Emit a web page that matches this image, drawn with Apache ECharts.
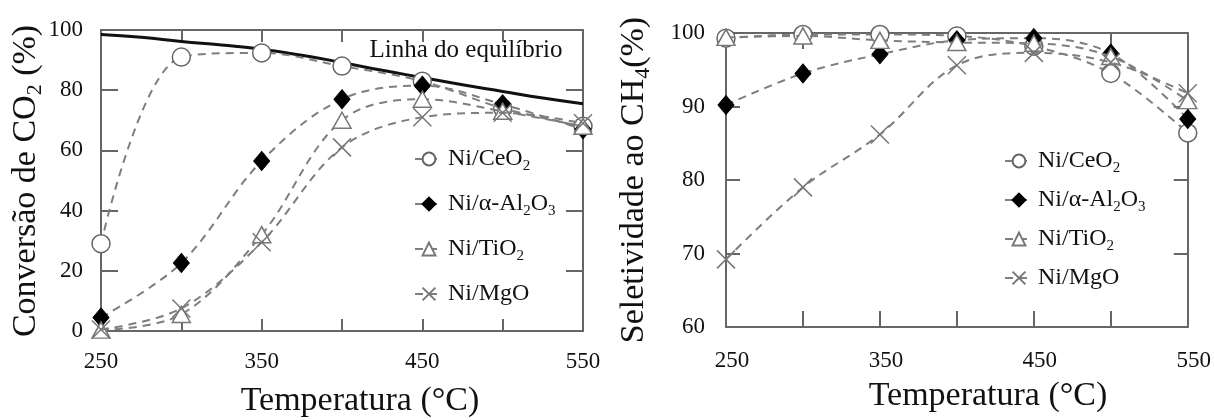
<!DOCTYPE html>
<html>
<head>
<meta charset="utf-8">
<script src="https://cdn.jsdelivr.net/npm/echarts@6/dist/echarts.min.js"></script>
<style>
  html, body { margin: 0; padding: 0; background: #fff; }
  #chart { width: 1214px; height: 420px; }
</style>
</head>
<body>
<div id="chart"></div>
<script>
// Temperatures of the catalytic runs (°C)
const TEMPS = [250, 300, 350, 400, 450, 500, 550];
const X_TICK_LABELS = [250, 350, 450, 550];

// Catalyst names (digits are drawn as subscripts)
const NAMES = ['Ni/CeO2', 'Ni/α-Al2O3', 'Ni/TiO2', 'Ni/MgO'];

// CO2 conversion (%)
const CONV_CEO2  = [29, 91, 92.4, 88, 83, 74, 68];
const CONV_AL2O3 = [4.5, 22.6, 56.5, 77, 81.5, 75.3, 67];
const CONV_TIO2  = [0.3, 5.5, 32, 70, 77, 73, 68];
const CONV_MGO   = [0.5, 7.5, 29.5, 61, 71, 72.5, 69];

// Thermodynamic equilibrium conversion (%)
const EQ_TEMPS = [250, 275, 300, 325, 350, 375, 400, 425, 450, 475, 500, 525, 550];
const EQ_CONV  = [98.5, 97.6, 96.2, 95, 93.6, 91.6, 89.2, 86.6, 84.2, 81.8, 79.6, 77.4, 75.5];

// CH4 selectivity (%)
const SEL_CEO2  = [99.3, 99.8, 99.8, 99.6, 98.2, 94.5, 86.4];
const SEL_AL2O3 = [90.2, 94.5, 97.1, 99.0, 99.3, 97.2, 88.3];
const SEL_TIO2  = [99.4, 99.6, 99.0, 98.7, 98.6, 96.8, 90.8];
const SEL_MGO   = [69.2, 79.0, 86.2, 95.6, 97.3, 96.0, 91.8];

const FONT = 'Liberation Serif';
const AXIS_COLOR = '#666';
const DASH_COLOR = '#7e7e7e';

// turn "CO2" into rich-text tokens with a subscript digit
function rich(s) {
  return s.match(/\d+|\D+/g)
    .map(t => /^\d+$/.test(t) ? '{s|' + t + '}' : '{n|' + t + '}')
    .join('');
}

function pairs(xs, ys) { return xs.map((x, i) => [x, ys[i]]); }

const MARKERS = [
  { symbol: 'circle', symbolSize: 18, itemStyle: { color: '#fff', borderColor: '#666', borderWidth: 1.5 } },
  { symbol: 'diamond', symbolSize: [16, 19], itemStyle: { color: '#000', borderColor: '#000', borderWidth: 1 } },
  { symbol: 'triangle', symbolSize: [18, 16], itemStyle: { color: '#fff', borderColor: '#777', borderWidth: 1.5 } },
  { symbol: 'path://M0,0L10,10M10,0L0,10', symbolSize: 18, itemStyle: { color: '#777', borderColor: '#777', borderWidth: 1.5 } }
];

function catalystSeries(grid, values) {
  return values.map((vals, i) => Object.assign({
    type: 'line',
    name: NAMES[i],
    xAxisIndex: grid * 2,
    yAxisIndex: grid * 2,
    data: pairs(TEMPS, vals),
    smooth: 0.35,
    clip: false,
    z: 3 + i,
    lineStyle: { color: DASH_COLOR, width: 2, type: [8, 6] }
  }, MARKERS[i]));
}

const lineStyleAxis = { color: AXIS_COLOR, width: 2 };
const labelStyle = { fontFamily: FONT, fontSize: 23, color: '#111' };

function xAxes(grid, tickLen, labelMargin, labelPad) {
  const base = {
    gridIndex: grid, type: 'value', min: 250, max: 550, interval: 50,
    axisLine: { show: true, onZero: false, lineStyle: lineStyleAxis },
    axisTick: { show: true, inside: true, length: tickLen, lineStyle: lineStyleAxis },
    splitLine: { show: false }
  };
  return [
    Object.assign({}, base, {
      position: 'bottom',
      axisLabel: Object.assign({
        margin: labelMargin, padding: labelPad,
        formatter: v => X_TICK_LABELS.includes(v) ? String(v) : ''
      }, labelStyle)
    }),
    Object.assign({}, base, { position: 'top', axisLabel: { show: false } })
  ];
}

function yAxes(grid, min, max, interval, tickLen, labelMargin) {
  const base = {
    gridIndex: grid, type: 'value', min: min, max: max, interval: interval,
    axisLine: { show: true, onZero: false, lineStyle: lineStyleAxis },
    axisTick: { show: true, inside: true, length: tickLen, lineStyle: lineStyleAxis },
    splitLine: { show: false }
  };
  return [
    Object.assign({}, base, { position: 'left', axisLabel: Object.assign({ margin: labelMargin }, labelStyle) }),
    Object.assign({}, base, { position: 'right', axisLabel: { show: false } })
  ];
}

const legendRich = {
  n: { fontFamily: FONT, fontSize: 24, color: '#111', lineHeight: 30 },
  s: { fontFamily: FONT, fontSize: 15, color: '#111', lineHeight: 10, verticalAlign: 'bottom' }
};

function legendFor(left, top, gap) {
  return {
    data: NAMES,
    orient: 'vertical',
    left: left, top: top,
    itemWidth: 28, itemHeight: 16, itemGap: gap,
    selectedMode: false,
    formatter: name => rich(name),
    textStyle: { fontFamily: FONT, fontSize: 24, color: '#111', lineHeight: 30, rich: legendRich }
  };
}

const titleRich = {
  n: { fontFamily: FONT, fontSize: 34, fill: '#111', lineHeight: 40 },
  s: { fontFamily: FONT, fontSize: 22, fill: '#111', lineHeight: 14, verticalAlign: 'bottom' }
};

function titleText(x, y, text, rot) {
  return {
    type: 'text', x: x, y: y, rotation: rot || 0, silent: true,
    style: { text: rich(text), rich: titleRich, align: 'center', verticalAlign: 'middle' }
  };
}

const option = {
  animation: false,
  backgroundColor: '#fff',
  grid: [
    { left: 101, top: 30, width: 482, height: 301 },
    { left: 726, top: 33, width: 463, height: 294 }
  ],
  xAxis: [].concat(xAxes(0, 12, 19, 0), xAxes(1, 16, 22, [0, 0, 0, 12])),
  yAxis: [].concat(yAxes(0, 0, 100, 20, 17, 18), yAxes(1, 60, 100, 10, 14, 21)),
  legend: [legendFor(409, 139, 15), legendFor(999, 141, 9)],
  series: [
    {
      type: 'line', name: 'Linha do equilíbrio',
      xAxisIndex: 0, yAxisIndex: 0,
      data: pairs(EQ_TEMPS, EQ_CONV),
      smooth: true, showSymbol: false, symbol: 'none', z: 2,
      lineStyle: { color: '#111', width: 3 }
    }
  ].concat(
    catalystSeries(0, [CONV_CEO2, CONV_AL2O3, CONV_TIO2, CONV_MGO]),
    catalystSeries(1, [SEL_CEO2, SEL_AL2O3, SEL_TIO2, SEL_MGO])
  ),
  graphic: [
    titleText(26, 181, 'Conversão de CO2 (%)', Math.PI / 2),
    titleText(634, 180, 'Seletividade ao CH4(%)', Math.PI / 2),
    titleText(360, 401, 'Temperatura (°C)'),
    titleText(988, 396, 'Temperatura (°C)'),
    {
      type: 'text', x: 466, y: 50, silent: true,
      style: { text: 'Linha do equilíbrio', fontFamily: FONT, fontSize: 25, fill: '#111', align: 'center', verticalAlign: 'middle' }
    }
  ]
};

const chart = echarts.init(document.getElementById('chart'), null, { renderer: 'canvas' });
chart.setOption(option);
</script>
</body>
</html>
